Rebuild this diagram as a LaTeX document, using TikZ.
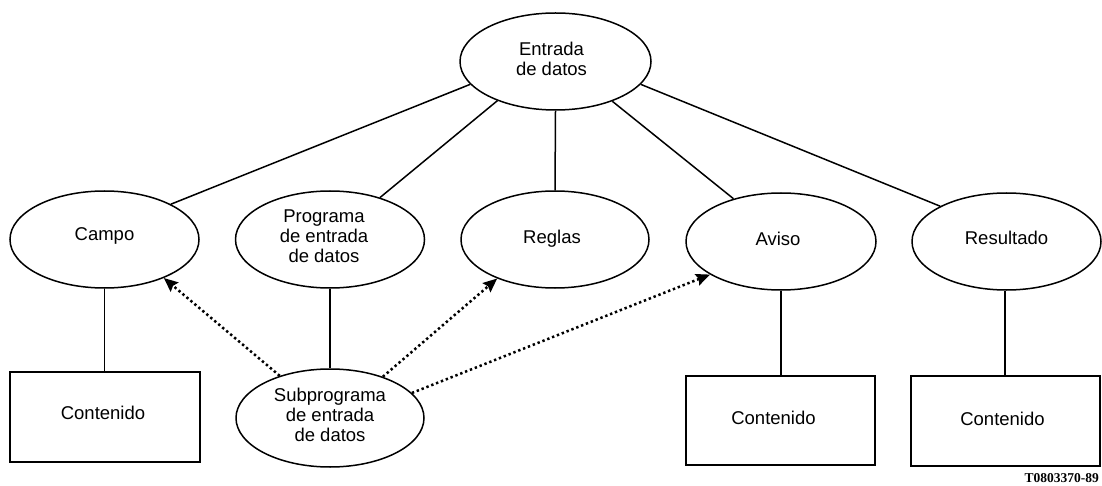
\documentclass[tikz,border=0pt]{standalone}
\usepackage{fontspec}
\setmainfont{Liberation Sans}
\newfontfamily\codefont{Liberation Serif}
\usetikzlibrary{shapes.geometric,arrows.meta}
\newcommand\liftlab[3][6pt]{\begin{tabular}{@{}c@{}}#3\\[#1]\end{tabular}\rule{#2}{0pt}}
\tikzset{
 ell/.style={draw,ellipse,line width=1.5pt,inner sep=0pt,align=center,font=\fontsize{18.5}{20}\selectfont},
 boxn/.style={draw,rectangle,line width=1.5pt,inner sep=0pt,align=center,font=\fontsize{18.5}{20}\selectfont},
 link/.style={line width=1.5pt},
 dep/.style={line width=2.5pt,line cap=butt,dash pattern=on 2.4pt off 2.8pt,-{Stealth[length=14pt,width=12pt,inset=2pt]}}
}
\begin{document}
\begin{tikzpicture}[x=1pt,y=-1pt]
\useasboundingbox (0,0) rectangle (1102,486);
\node[ell,minimum width=191pt,minimum height=97pt] (top) at (555.5,61.5) {\liftlab[0pt]{8pt}{Entrada\\de datos}};
\node[ell,minimum width=189pt,minimum height=97pt] (campo) at (104.5,239.5) {\liftlab[5pt]{0pt}{Campo}};
\node[ell,minimum width=189pt,minimum height=97pt] (prog) at (330,239.5) {\liftlab[2pt]{12pt}{Programa\\de entrada\\de datos}};
\node[ell,minimum width=188pt,minimum height=97pt] (reglas) at (555,239.5) {\liftlab[0pt]{6pt}{Reglas}};
\node[ell,minimum width=190pt,minimum height=97pt] (aviso) at (781,241.5) {\liftlab[0pt]{6pt}{Aviso}};
\node[ell,minimum width=189pt,minimum height=97pt] (res) at (1006.5,241.5) {\liftlab[1pt]{0pt}{Resultado}};
\node[ell,minimum width=188pt,minimum height=98pt] (sub) at (330,418) {\liftlab[2pt]{0pt}{Subprograma\\de entrada\\de datos}};
\node[boxn,minimum width=190pt,minimum height=90pt] (b1) at (105,417) {\liftlab[4pt]{4pt}{Contenido}};
\node[boxn,minimum width=189pt,minimum height=89pt] (b2) at (780.5,420.5) {\liftlab[1pt]{14pt}{Contenido}};
\node[boxn,minimum width=189pt,minimum height=90pt] (b3) at (1005.5,421) {\liftlab[0pt]{6pt}{Contenido}};
\node[font=\fontsize{13.5}{14}\selectfont\codefont\bfseries,anchor=east,inner sep=0pt] (code) at (1099,478) {T0803370-89};
\draw[link] (top.195.2) -- (campo.28);
\draw[link] (top.214) -- (prog.40);
\draw[link] (top.south) -- (reglas.north);
\draw[link] (top.-35.2) -- (aviso.138.4);
\draw[link] (top.-15.4) -- (res.152.3);
\draw[link] (campo.south) -- (campo.south |- b1.north);
\draw[link] (prog.south) -- (sub.north);
\draw[link] (aviso.south) -- (aviso.south |- b2.north);
\draw[link] (res.268) -- (res.268 |- b3.north);
\draw[dep] (sub.140) -- (campo.-33.4);
\draw[dep] (sub.38.8) -- (reglas.214.9);
\draw[dep] (sub.17.4) -- (aviso.205.5);
\end{tikzpicture}
\end{document}
